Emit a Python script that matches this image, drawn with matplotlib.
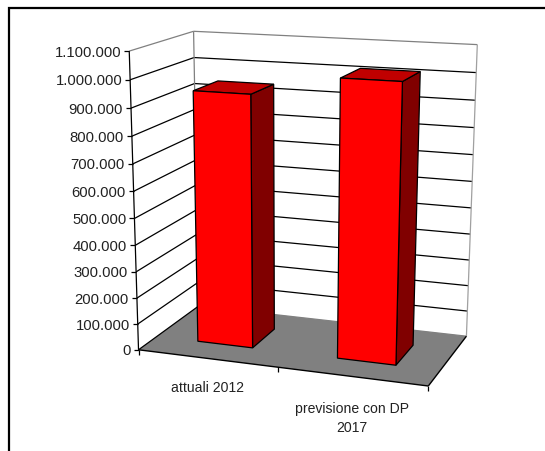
import numpy as np
import matplotlib
matplotlib.use("Agg")
import matplotlib.pyplot as plt
from matplotlib.patches import Polygon, Rectangle

categories = ["attuali 2012", "previsione con DP\n2017"]
values = [945000, 1020000]
tick_values = list(range(0, 1100001, 100000))
tick_labels = ["0", "100.000", "200.000", "300.000", "400.000", "500.000", "600.000",
               "700.000", "800.000", "900.000", "1.000.000", "1.100.000"]
vmax = 1100000

# perspective camera fitted on the plot box corners (pixel layout)
box = [((0, 0, 0), (140, 349)), ((1, 0, 0), (428, 389)), ((1, 0, 1), (467, 335)),
       ((0, 0, 1), (197, 309)), ((0, 1, 0), (128, 52)), ((0, 1, 1), (195, 32)),
       ((1, 1, 1), (477, 46))]
A, b = [], []
for (u, v, w), (x, y) in box:
    A.append([u, v, w, 1, 0, 0, 0, 0, -x*u, -x*v, -x*w]); b.append(x)
    A.append([0, 0, 0, 0, u, v, w, 1, -y*u, -y*v, -y*w]); b.append(y)
P = np.linalg.lstsq(np.array(A, float), np.array(b, float), rcond=None)[0]
P = np.append(P, 1).reshape(3, 4)

def proj(cat, val, w):
    q = P @ np.array([cat / 2, val / vmax, w, 1.0])
    return q[0] / q[2], q[1] / q[2]

fig = plt.figure(figsize=(5.45, 4.52), dpi=100)
ax = fig.add_axes([0, 0, 1, 1])
ax.set_xlim(0, 545); ax.set_ylim(452, 0); ax.axis("off")
plt.rcParams["font.family"] = "Liberation Sans"
FS_TICK = 10.7
FS_CAT = 10.1
TXT = "#222222"

ax.add_patch(Rectangle((8.5, 9), 560, 470, fc="white", ec="black", lw=1.6, zorder=0))

def poly(pts, fc, ec="black", lw=0.9, z=2):
    ax.add_patch(Polygon(pts, closed=True, fc=fc, ec=ec, lw=lw, zorder=z, joinstyle="miter"))

def line(p, q, c="black", lw=0.9, z=1.5):
    ax.plot([p[0], q[0]], [p[1], q[1]], color=c, lw=lw, zorder=z, solid_capstyle="butt")

# floor
poly([proj(0, 0, 0), proj(2, 0, 0), proj(2, 0, 1), proj(0, 0, 1)], "#808080", ec="none", z=1)

# grid lines on side and back wall
for t, lab in zip(tick_values, tick_labels):
    top = t == vmax
    c = "#808080" if (top or t == 0) else "black"
    line(proj(0, t, 0), proj(0, t, 1), "#808080" if top else "black")
    line(proj(0, t, 1), proj(2, t, 1), c)
    p = proj(0, t, 0)
    line((p[0] - 5, p[1]), p)
    ax.text(p[0] - 8, p[1] + 0.5, lab, ha="right", va="center", fontsize=FS_TICK, color=TXT)

# wall edges and front axes
line(proj(0, 0, 1), proj(0, vmax, 1), "#808080")
line(proj(2, 0, 1), proj(2, vmax, 1), "#a0a0a0")
line(proj(0, 0, 0), proj(0, vmax, 0))
line(proj(0, 0, 0), proj(2, 0, 0), lw=1.0, z=1.6)
line(proj(2, 0, 0), proj(2, 0, 1), lw=1.0, z=1.6)
for c in [0, 1, 2]:
    p = proj(c, 0, 0)
    line(p, (p[0], p[1] + 5))

# bars
half, w0, w1 = 0.2, 0.29, 0.70
for i, (name, val) in enumerate(zip(categories, values)):
    c = i + 0.505
    l, r = c - half, c + half
    poly([proj(r, 0, w0), proj(r, 0, w1), proj(r, val, w1), proj(r, val, w0)], "#800000", z=3)
    poly([proj(l, val, w0), proj(r, val, w0), proj(r, val, w1), proj(l, val, w1)], "#C00000", z=3)
    poly([proj(l, 0, w0), proj(r, 0, w0), proj(r, val, w0), proj(l, val, w0)], "#FF0000", z=4)

# category labels
offsets = [(0, 22), (0, 25)]
for i, name in enumerate(categories):
    p = proj(i + 0.5, 0, 0)
    ax.text(p[0] + offsets[i][0], p[1] + offsets[i][1], name, ha="center", va="top",
            fontsize=FS_CAT, color=TXT, linespacing=1.4)

fig.savefig("out.png", dpi=100)
